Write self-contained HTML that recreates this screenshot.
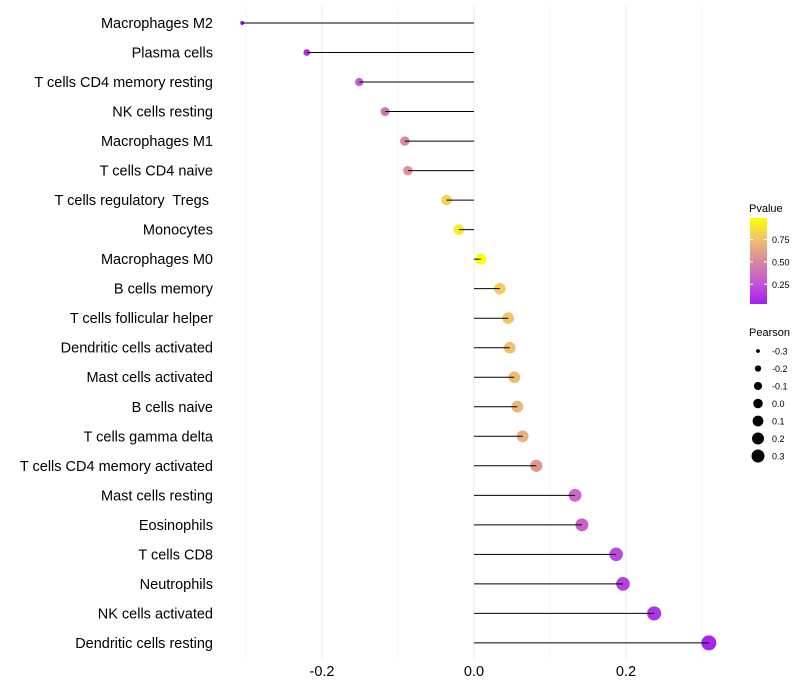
<!DOCTYPE html>
<html><head><meta charset="utf-8"><style>
body{margin:0;background:#fff;font-family:"Liberation Sans",sans-serif}
svg{display:block}
</style></head><body>
<svg id="c" width="800" height="700"></svg>
<script>
const categories=["Macrophages M2","Plasma cells","T cells CD4 memory resting","NK cells resting","Macrophages M1","T cells CD4 naive","T cells regulatory  Tregs ","Monocytes","Macrophages M0","B cells memory","T cells follicular helper","Dendritic cells activated","Mast cells activated","B cells naive","T cells gamma delta","T cells CD4 memory activated","Mast cells resting","Eosinophils","T cells CD8","Neutrophils","NK cells activated","Dendritic cells resting"];
const pearson=[-0.305,-0.22,-0.151,-0.117,-0.091,-0.087,-0.036,-0.020,0.009,0.034,0.045,0.047,0.053,0.057,0.064,0.082,0.133,0.142,0.187,0.196,0.237,0.309];
const pvalue=[0.03,0.1,0.3,0.4,0.52,0.56,0.82,0.92,0.99,0.8,0.76,0.75,0.73,0.71,0.68,0.58,0.36,0.32,0.2,0.17,0.12,0.06];
const xTicks=[-0.2,0.0,0.2];
const pTicks=[0.25,0.5,0.75];
const sizeLegend=[-0.3,-0.2,-0.1,0.0,0.1,0.2,0.3];
const NS="http://www.w3.org/2000/svg";
const svg=document.getElementById('c');
function el(t,a,p){const e=document.createElementNS(NS,t);for(const k in a)e.setAttribute(k,a[k]);(p||svg).appendChild(e);return e;}
const x=v=>474+v*760;
const y=i=>23+i*29.52;
const rad=v=>Math.sqrt(4+84*Math.max(0,v+0.31));
const stops=[[160,32,240],[196,88,212],[216,136,160],[240,192,112],[255,255,0]];
function lerp(a,b,t){return a.map((v,i)=>Math.round(v+(b[i]-v)*t));}
function col(p){let t=Math.max(0,Math.min(1,(p-0.03)/0.96))*4;const k=Math.min(3,Math.floor(t));return `rgb(${lerp(stops[k],stops[k+1],t-k)})`;}
const gv=[-0.3,-0.2,-0.1,0,0.1,0.2,0.3];
gv.forEach(v=>{const g=el('line',{x1:x(v),x2:x(v),y1:5,y2:660,stroke:Math.abs(Math.round(v*10))%2===0?'#ebebeb':'#f4f4f4','stroke-width':1});

});
categories.forEach((c,i)=>{
 const t=el('text',{x:213,y:y(i)+5,'text-anchor':'end','font-size':14.5,fill:'#000','xml:space':'preserve'});t.style.whiteSpace='pre';t.textContent=c;
 
 
 const d=el('circle',{cx:x(pearson[i]),cy:y(i),r:rad(pearson[i]),fill:col(pvalue[i])});
 
 
 const l=el('line',{x1:x(0),x2:x(pearson[i]),y1:y(i),y2:y(i),stroke:'#000','stroke-width':1});
 
 
});
xTicks.forEach(v=>{const t=el('text',{x:x(v),y:676,'text-anchor':'middle','font-size':14.5,fill:'#000'});t.textContent=v.toFixed(1);

});
const tt=el('text',{x:749,y:212,'font-size':11,fill:'#000'});tt.textContent='Pvalue';


const defs=el('defs',{});const gr=el('linearGradient',{id:'g',x1:0,y1:1,x2:0,y2:0},defs);
[0,0.25,0.5,0.75,1].forEach((o,k)=>el('stop',{offset:o,'stop-color':`rgb(${stops[k]})`},gr));
const cb=el('rect',{x:750,y:218,width:17,height:86,fill:'url(#g)'});


const py=p=>304-(p-0.03)/0.96*86;
pTicks.forEach(p=>{el('line',{x1:750,x2:753,y1:py(p),y2:py(p),stroke:'#fff'});el('line',{x1:764,x2:767,y1:py(p),y2:py(p),stroke:'#fff'});
const t=el('text',{x:772,y:py(p)+3.5,'font-size':9,fill:'#000'});t.textContent=p.toFixed(2);

});
const st=el('text',{x:749,y:336,'font-size':11,fill:'#000'});st.textContent='Pearson';


sizeLegend.forEach((v,i)=>{const cy=351+i*17.5;
const d=el('circle',{cx:758,cy:cy,r:rad(v)*0.87,fill:'#000'});


const t=el('text',{x:772,y:cy+3.5,'font-size':9,fill:'#000'});t.textContent=v.toFixed(1);

});
</script>
</body></html>
